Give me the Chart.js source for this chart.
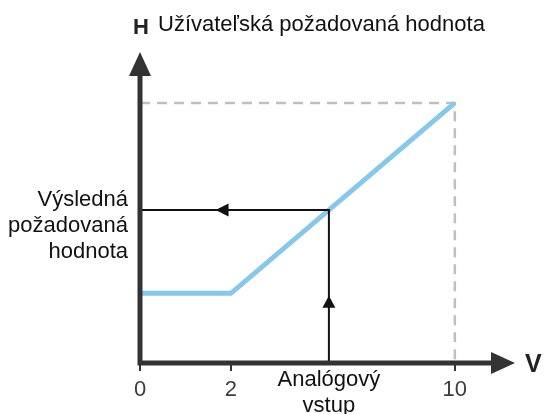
<!DOCTYPE html>
<html>
<head>
<meta charset="utf-8">
<script src="https://cdn.jsdelivr.net/npm/chart.js@4/dist/chart.umd.min.js"></script>
<style>
  html, body { margin: 0; padding: 0; background: #fff; }
  #wrap { width: 544px; height: 414px; }
</style>
</head>
<body>
<div id="wrap"><canvas id="chart" width="544" height="414"></canvas></div>
<script>
// characteristic: analog input (V) -> resulting setpoint (H, % of user setpoint)
const inputValues = [0, 2, 10];
const setpointValues = [26.8, 26.8, 100];
const xTicks = [0, 2, 10];
const userSetpoint = 100;
const inputValue = 5.5;
const resultValue = 58.8;
const inputLabel = ['Analógový', 'vstup'];
const resultLabel = ['Výsledná', 'požadovaná', 'hodnota'];
const titleText = 'Užívateľská požadovaná hodnota';
const yAxisName = 'H';
const xAxisName = 'V';

const axisColor = '#333333';
const lineBlue = '#87c7e9';
const dashGray = '#c3bebd';

Chart.defaults.font.family = '"Liberation Sans", Arial, sans-serif';

// linear scale where the 0..2 V part is drawn wider than the rest
class StretchScale extends Chart.LinearScale {
  static id = 'stretch';
  static defaults = {};
  warp(v) {
    const end = 2, k = 1.625;
    return v <= end ? v * k : end * k + (v - end);
  }
  unwarp(w) {
    const end = 2, k = 1.625;
    return w <= end * k ? w / k : w - end * k + end;
  }
  getPixelForValue(value) {
    if (value === null || value === undefined || isNaN(value)) return NaN;
    const w0 = this.warp(this.min), w1 = this.warp(this.max);
    return this.getPixelForDecimal((this.warp(value) - w0) / (w1 - w0));
  }
  getValueForPixel(pixel) {
    const w0 = this.warp(this.min), w1 = this.warp(this.max);
    return this.unwarp(w0 + this.getDecimalForPixel(pixel) * (w1 - w0));
  }
}
Chart.register(StretchScale);

function arrowHead(ctx, x, y, dir, len, half) {
  ctx.beginPath();
  ctx.moveTo(x, y);
  if (dir === 'up') { ctx.lineTo(x - half, y + len); ctx.lineTo(x + half, y + len); }
  if (dir === 'left') { ctx.lineTo(x + len, y - half); ctx.lineTo(x + len, y + half); }
  if (dir === 'right') { ctx.lineTo(x - len, y - half); ctx.lineTo(x - len, y + half); }
  ctx.closePath();
  ctx.fill();
}

// axes with arrows, arrows on the guide path and the free labels
const diagramPlugin = {
  id: 'diagram',
  afterDatasetsDraw(chart) {
    const { ctx, chartArea: a } = chart;
    ctx.save();

    // arrows along the guide line
    const pts = chart.getDatasetMeta(0).data;
    ctx.fillStyle = '#111';
    const hx = pts[0].x + 0.4 * (pts[1].x - pts[0].x);
    arrowHead(ctx, hx, pts[0].y, 'left', 13, 6.5);
    const vy = pts[2].y + 0.44 * (pts[1].y - pts[2].y);
    arrowHead(ctx, pts[2].x, vy, 'up', 12, 6.5);

    // axes
    ctx.strokeStyle = axisColor;
    ctx.fillStyle = axisColor;
    ctx.lineWidth = 5;
    ctx.beginPath();
    ctx.moveTo(a.left, a.bottom + 2.5);
    ctx.lineTo(a.left, a.top + 20);
    ctx.moveTo(a.left - 2.5, a.bottom);
    ctx.lineTo(a.right - 20, a.bottom);
    ctx.stroke();
    arrowHead(ctx, a.left, a.top, 'up', 24, 11);
    arrowHead(ctx, a.right, a.bottom, 'right', 24, 11);
    ctx.restore();
  },
  afterDraw(chart) {
    const { ctx, chartArea: a, scales } = chart;
    ctx.save();
    ctx.textBaseline = 'alphabetic';
    ctx.fillStyle = '#222';
    ctx.font = 'bold 22px "Liberation Sans", Arial, sans-serif';
    ctx.textAlign = 'left';
    ctx.fillText(yAxisName, a.left - 7, 34);
    ctx.font = 'bold 25px "Liberation Sans", Arial, sans-serif';
    ctx.fillText(xAxisName, a.right + 10, a.bottom + 9);

    ctx.fillStyle = '#111';
    ctx.font = '22px "Liberation Sans", Arial, sans-serif';
    ctx.fillText(titleText, a.left + 18, 31);

    const ry = scales.y.getPixelForValue(resultValue);
    ctx.textAlign = 'right';
    resultLabel.forEach((line, i) => {
      ctx.fillText(line, a.left - 12, ry - 4 + i * 26);
    });
    ctx.restore();
  }
};

new Chart(document.getElementById('chart'), {
  type: 'line',
  data: {
    datasets: [
      {
        // guide: input -> curve -> result
        data: [
          { x: 0, y: resultValue },
          { x: inputValue, y: resultValue },
          { x: inputValue, y: 0 }
        ],
        borderColor: '#111',
        borderWidth: 2,
        pointRadius: 0,
        order: 1
      },
      {
        data: inputValues.map((v, i) => ({ x: v, y: setpointValues[i] })),
        borderColor: lineBlue,
        borderWidth: 5,
        pointRadius: 0,
        order: 2
      },
      {
        data: [
          { x: 0, y: userSetpoint },
          { x: xTicks[xTicks.length - 1], y: userSetpoint },
          { x: xTicks[xTicks.length - 1], y: 0 }
        ],
        borderColor: dashGray,
        borderWidth: 2.5,
        borderDash: [10, 7],
        pointRadius: 0,
        order: 3
      }
    ]
  },
  options: {
    responsive: false,
    animation: false,
    events: [],
    layout: { padding: { left: 140, right: 29, top: 52, bottom: 0 } },
    plugins: { legend: { display: false }, tooltip: { enabled: false }, title: { display: false } },
    scales: {
      x: {
        type: 'stretch',
        min: 0,
        max: 12.15,
        afterFit: (scale) => { scale.height = 51; },
        afterBuildTicks: (scale) => {
          scale.ticks = xTicks.concat([inputValue]).map(v => ({ value: v }));
        },
        border: { display: false },
        grid: {
          drawOnChartArea: false,
          drawTicks: true,
          tickLength: 8,
          lineWidth: 2,
          color: (c) => (c.tick && c.tick.value === inputValue ? 'rgba(0,0,0,0)' : axisColor)
        },
        ticks: {
          autoSkip: false,
          maxRotation: 0,
          padding: -4,
          callback: (value) => (value === inputValue ? inputLabel : String(value)),
          color: (c) => (c.tick && c.tick.value === inputValue ? '#111' : '#3d3d3d'),
          font: (c) => (c.tick && c.tick.value === inputValue
            ? { size: 22, lineHeight: '26px' }
            : { size: 22, lineHeight: '45px' })
        }
      },
      y: {
        type: 'linear',
        display: false,
        min: 0,
        max: 119.6
      }
    }
  },
  plugins: [diagramPlugin]
});
</script>
</body>
</html>
